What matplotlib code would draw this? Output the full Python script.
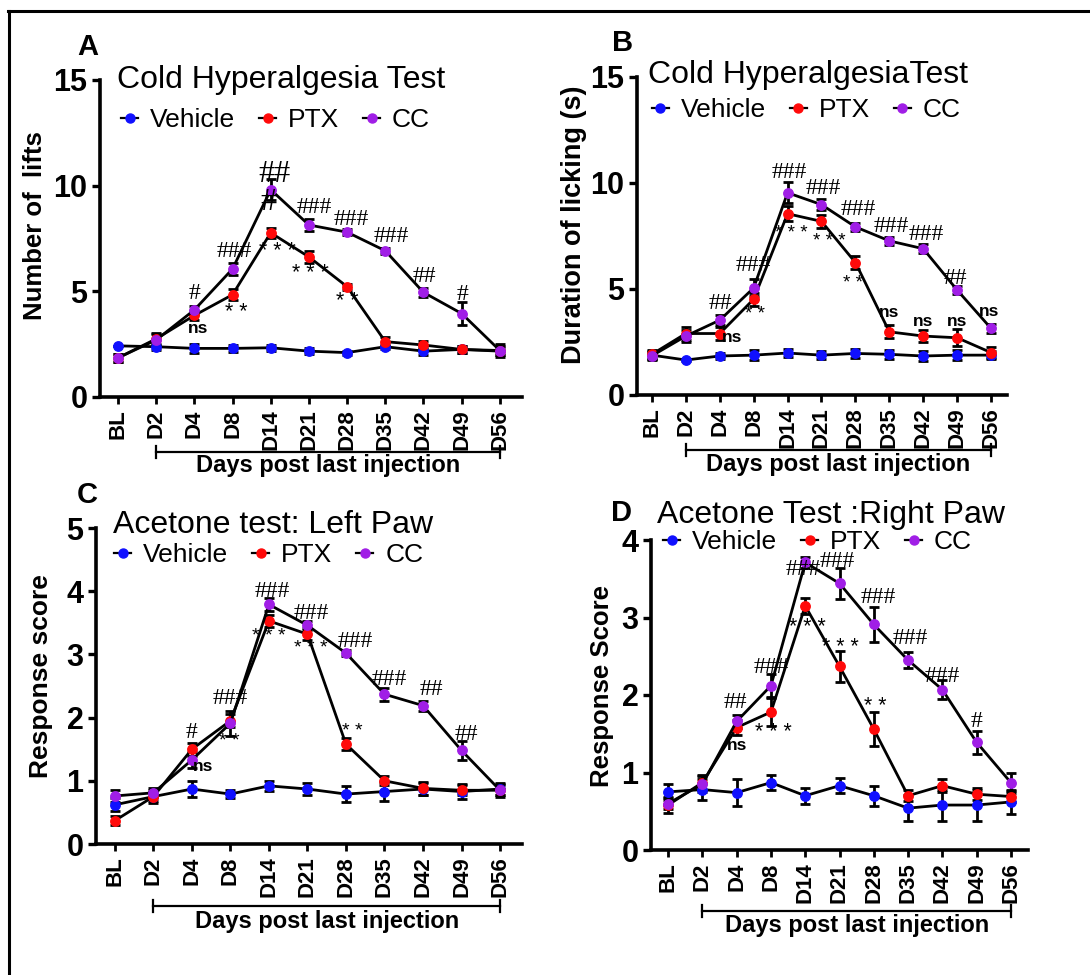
import matplotlib
matplotlib.use('Agg')
import matplotlib.pyplot as plt
from matplotlib.lines import Line2D
import matplotlib.transforms as mtransforms

plt.rcParams['font.family'] = ['Liberation Sans', 'DejaVu Sans']

# ---------------- data ----------------
days = ['BL', 'D2', 'D4', 'D8', 'D14', 'D21', 'D28', 'D35', 'D42', 'D49', 'D56']
groups = ['Vehicle', 'PTX', 'CC']
group_colors = ['#1010ff', '#ff0a0a', '#a01ee6']

# Panel A: Cold hyperalgesia, number of lifts
a_vehicle = [2.42, 2.38, 2.30, 2.30, 2.33, 2.17, 2.10, 2.38, 2.17, 2.25, 2.17]
a_vehicle_err = [0.0, 0.15, 0.2, 0.15, 0.15, 0.15, 0.1, 0.1, 0.2, 0.15, 0.2]
a_ptx = [1.85, 2.75, 3.86, 4.84, 7.77, 6.63, 5.22, 2.62, 2.46, 2.25, 2.20]
a_ptx_err = [0.2, 0.3, 0.2, 0.25, 0.25, 0.3, 0.15, 0.2, 0.2, 0.15, 0.2]
a_cc = [1.85, 2.70, 4.12, 6.06, 9.81, 8.14, 7.80, 6.92, 4.95, 3.95, 2.20]
a_cc_err = [0.2, 0.3, 0.2, 0.3, 0.5, 0.3, 0.15, 0.15, 0.2, 0.55, 0.3]
a_marks = [(2, 0.0, 4.9, '#'), (2, 0.1, 3.25, 'ns'), (3, 0.05, 6.9, '###'),
           (3, 0.1, 4.0, '**'), (4, 0.1, 10.55, '##'), (4, -0.06, 9.2, '#'),
           (4, 0.18, 6.9, '***'), (5, 0.13, 8.97, '###'), (5, 0.05, 5.84, '***'),
           (6, 0.1, 8.4, '###'), (6, 0.0, 4.5, '**'), (7, 0.15, 7.6, '###'),
           (8, 0.02, 5.7, '##'), (9, 0.02, 4.84, '#')]

# Panel B: Cold hyperalgesia, duration of licking
b_vehicle = [1.88, 1.65, 1.84, 1.88, 1.98, 1.88, 1.96, 1.92, 1.84, 1.88, 1.88]
b_vehicle_err = [0.2, 0.05, 0.15, 0.25, 0.2, 0.2, 0.2, 0.2, 0.25, 0.25, 0.2]
b_ptx = [1.92, 2.90, 2.90, 4.52, 8.55, 8.19, 6.25, 2.98, 2.78, 2.70, 2.00]
b_ptx_err = [0.2, 0.3, 0.3, 0.3, 0.35, 0.3, 0.3, 0.3, 0.3, 0.4, 0.25]
b_cc = [1.85, 2.78, 3.53, 5.05, 9.54, 8.98, 7.93, 7.27, 6.90, 4.95, 3.14]
b_cc_err = [0.2, 0.3, 0.25, 0.4, 0.5, 0.25, 0.2, 0.2, 0.2, 0.2, 0.2]
b_marks = [(2, 0.03, 4.3, '##'), (2, 0.35, 2.7, 'ns'), (3, 0.0, 6.1, '###'),
           (3, 0.03, 3.8, '**'), (4, 0.05, 10.5, '###'), (4, 0.12, 7.6, '***'),
           (5, 0.05, 9.76, '###'), (5, 0.22, 7.25, '***'), (6, 0.08, 8.74, '###'),
           (6, -0.07, 5.28, '**'), (7, 0.07, 7.93, '###'), (7, 0.0, 3.9, 'ns'),
           (8, 0.1, 7.57, '###'), (8, 0.0, 3.48, 'ns'), (9, -0.06, 5.5, '##'),
           (9, 0.0, 3.45, 'ns'), (10, -0.05, 3.96, 'ns')]

# Panel C: Acetone test, left paw
c_vehicle = [0.62, 0.75, 0.87, 0.79, 0.92, 0.87, 0.79, 0.83, 0.87, 0.83, 0.87]
c_vehicle_err = [0.1, 0.1, 0.13, 0.07, 0.08, 0.1, 0.13, 0.15, 0.1, 0.12, 0.1]
c_ptx = [0.37, 0.75, 1.50, 1.95, 3.53, 3.32, 1.58, 1.00, 0.88, 0.85, 0.85]
c_ptx_err = [0.07, 0.07, 0.1, 0.1, 0.1, 0.1, 0.1, 0.07, 0.1, 0.08, 0.08]
c_cc = [0.76, 0.81, 1.33, 1.91, 3.79, 3.46, 3.02, 2.37, 2.19, 1.48, 0.85]
c_cc_err = [0.1, 0.07, 0.12, 0.2, 0.1, 0.07, 0.05, 0.1, 0.08, 0.15, 0.1]
c_marks = [(2, 0.0, 1.76, '#'), (2, 0.3, 1.23, 'ns'), (3, 0.0, 2.31, '###'),
           (3, -0.02, 1.62, '**'), (4, 0.08, 4.0, '###'), (4, 0.0, 3.28, '***'),
           (5, 0.1, 3.65, '###'), (5, 0.08, 3.1, '***'), (6, 0.25, 3.2, '###'),
           (6, 0.17, 1.78, '**'), (7, 0.13, 2.6, '###'), (8, 0.22, 2.45, '##'),
           (9, 0.13, 1.73, '##')]

# Panel D: Acetone test, right paw
d_vehicle = [0.75, 0.78, 0.74, 0.87, 0.70, 0.83, 0.70, 0.54, 0.58, 0.58, 0.62]
d_vehicle_err = [0.1, 0.13, 0.17, 0.1, 0.1, 0.1, 0.13, 0.17, 0.2, 0.2, 0.15]
d_ptx = [0.58, 0.87, 1.58, 1.78, 3.15, 2.37, 1.56, 0.70, 0.83, 0.72, 0.69]
d_ptx_err = [0.1, 0.1, 0.1, 0.18, 0.1, 0.2, 0.22, 0.07, 0.08, 0.08, 0.07]
d_cc = [0.60, 0.85, 1.66, 2.12, 3.71, 3.44, 2.91, 2.45, 2.07, 1.39, 0.87]
d_cc_err = [0.07, 0.1, 0.08, 0.15, 0.07, 0.2, 0.22, 0.1, 0.12, 0.15, 0.13]
d_marks = [(2, -0.03, 1.9, '##'), (2, 0.0, 1.35, 'ns'), (3, 0.0, 2.36, '###'),
           (3, 0.06, 1.52, '***'), (4, -0.05, 3.62, '###'), (4, 0.05, 2.87, '***'),
           (5, -0.07, 3.72, '###'), (5, 0.03, 2.61, '***'), (6, 0.12, 3.26, '###'),
           (6, 0.03, 1.85, '**'), (7, 0.05, 2.73, '###'), (8, 0.0, 2.24, '###'),
           (9, 0.0, 1.66, '#')]

# ---------------- figure ----------------
W, H = 1090, 975
fig = plt.figure(figsize=(W / 100, H / 100), dpi=100)

# outer frame (top and left visible)
fig.add_artist(Line2D([8 / W, 1.0], [1 - 11 / H, 1 - 11 / H], transform=fig.transFigure,
                      color='k', lw=2.2))
fig.add_artist(Line2D([9 / W, 9 / W], [0.0, 1 - 11 / H], transform=fig.transFigure,
                      color='k', lw=2.2))


def draw_panel(rect, xlim, ymax, yticks, series, errs, marks, title, title_xy,
               ylabel, ylabel_xy, ylabel_size, letter, letter_xy, legend_xy,
               bracket_y, xlabel_y, big_marks=(), star_size=15.5):
    ax = fig.add_axes(rect)
    x = list(range(len(days)))
    for vals, err, col in zip(series, errs, group_colors):
        ax.errorbar(x, vals, yerr=err, color='k', lw=2.0, marker='o', ms=6.8,
                    mfc=col, mec=col, ecolor='k', elinewidth=2.0, capsize=3.5,
                    capthick=2.0, zorder=3, clip_on=False)
    ax.set_xlim(*xlim)
    ax.set_ylim(0, ymax)
    ax.set_yticks(yticks)
    ax.set_yticklabels([str(t) for t in yticks], fontsize=22, fontweight='bold')
    ax.set_xticks(x)
    ax.set_xticklabels(days, rotation=90, fontsize=16, fontweight='bold')
    for s in ['top', 'right']:
        ax.spines[s].set_visible(False)
    for s in ['left', 'bottom']:
        ax.spines[s].set_linewidth(2.6)
    ax.tick_params(axis='y', length=6, width=2.4, pad=3)
    ax.tick_params(axis='x', length=5, width=2.0, pad=4)

    for idx, dx, yv, txt in marks:
        if '#' in txt:
            size = 23 if (idx, txt) in big_marks else 17
            ax.text(idx + dx, yv, txt, ha='center', va='center', fontsize=size,
                    family='Liberation Serif', zorder=5)
        elif txt == 'ns':
            ax.text(idx + dx, yv, txt, ha='center', va='center', fontsize=12.5,
                    fontweight='bold', zorder=5)
        else:
            ax.text(idx + dx, yv, ' '.join(txt), ha='center', va='center',
                    fontsize=star_size, zorder=5)

    ax.text(title_xy[0], title_xy[1], title, transform=ax.transAxes, ha='left',
            va='center', fontsize=23)
    ax.text(letter_xy[0], letter_xy[1], letter, transform=ax.transAxes, ha='center',
            va='center', fontsize=21, fontweight='bold')
    ax.set_ylabel(ylabel, fontsize=ylabel_size, fontweight='bold')
    ax.yaxis.set_label_coords(*ylabel_xy)

    handles = [Line2D([0], [0], color='k', lw=1.6, marker='o', ms=6.5, mfc=c, mec=c)
               for c in group_colors]
    ax.legend(handles, groups, loc='center left', bbox_to_anchor=legend_xy, ncol=3,
              frameon=False, handlelength=0.65, handletextpad=0.45,
              columnspacing=0.9, fontsize=19, borderaxespad=0, borderpad=0)

    tr = mtransforms.blended_transform_factory(ax.transData, ax.transAxes)
    ax.plot([1, 10], [bracket_y, bracket_y], transform=tr, color='k', lw=1.6,
            clip_on=False)
    for xe in (1, 10):
        ax.plot([xe, xe], [bracket_y - 0.018, bracket_y + 0.018], transform=tr,
                color='k', lw=1.6, clip_on=False)
    ax.text(5.5, xlabel_y, 'Days post last injection', transform=tr, ha='center',
            va='center', fontsize=17, fontweight='bold')
    return ax


draw_panel([100 / W, 1 - 397 / H, 422 / W, 317 / H], (-0.47, 10.58), 15, [0, 5, 10, 15],
           [a_vehicle, a_ptx, a_cc], [a_vehicle_err, a_ptx_err, a_cc_err], a_marks,
           'Cold Hyperalgesia Test', (0.04, 1.0), 'Number of  lifts', (-0.125, 0.54), 18.5,
           'A', (-0.03, 1.104), (0.05, 0.874), -0.173, -0.215,
           big_marks={(4, '##'), (4, '#')})

draw_panel([637 / W, 1 - 395 / H, 370 / W, 318 / H], (-0.44, 10.47), 15, [0, 5, 10, 15],
           [b_vehicle, b_ptx, b_cc], [b_vehicle_err, b_ptx_err, b_cc_err], b_marks,
           'Cold HyperalgesiaTest', (0.03, 1.006), 'Duration of licking (s)',
           (-0.135, 0.535), 19.5, 'B', (-0.04, 1.107), (0.04, 0.896), -0.173, -0.22,
           star_size=13.5)

draw_panel([96 / W, 1 - 844 / H, 426 / W, 316 / H], (-0.49, 10.57), 5, [0, 1, 2, 3, 4, 5],
           [c_vehicle, c_ptx, c_cc], [c_vehicle_err, c_ptx_err, c_cc_err], c_marks,
           'Acetone test: Left Paw', (0.04, 1.01), 'Response score', (-0.1, 0.53), 19,
           'C', (-0.02, 1.104), (0.043, 0.915), -0.196, -0.244, star_size=14)

draw_panel([651 / W, 1 - 850 / H, 377 / W, 310 / H], (-0.5, 10.5), 4, [0, 1, 2, 3, 4],
           [d_vehicle, d_ptx, d_cc], [d_vehicle_err, d_ptx_err, d_cc_err], d_marks,
           'Acetone Test :Right Paw', (0.016, 1.08), 'Response Score', (-0.098, 0.53), 18.5,
           'D', (-0.077, 1.087), (0.032, 0.994), -0.197, -0.242)

fig.savefig('out.png', dpi=100)
